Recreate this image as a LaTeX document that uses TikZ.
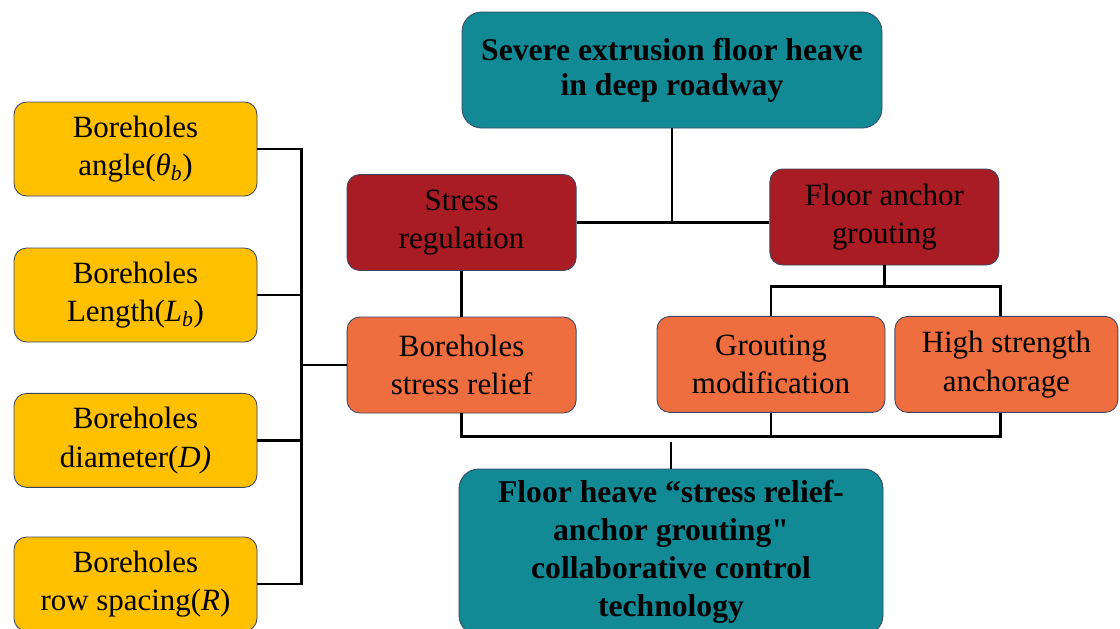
\documentclass[tikz,border=0pt]{standalone}
\usepackage{fontspec}
\setmainfont{Liberation Serif}[Ligatures=TeXOff]
\usetikzlibrary{calc}

\definecolor{tealfill}{RGB}{18,138,150}
\definecolor{redfill}{RGB}{169,28,36}
\definecolor{orgfill}{RGB}{238,110,63}
\definecolor{yelfill}{RGB}{255,192,0}
\definecolor{edgeblue}{RGB}{55,72,100}

\begin{document}
\begin{tikzpicture}[
    box/.style={draw=edgeblue, line width=0.6pt, rounded corners=9pt, align=center, inner sep=2pt,
        font=\fontsize{22}{27.5}\selectfont},
    yelbox/.style={box, fill=yelfill, minimum width=6.075cm, minimum height=2.35cm},
    redbox/.style={box, fill=redfill, minimum width=5.725cm, minimum height=2.4cm},
    orgbox/.style={box, fill=orgfill, minimum width=5.725cm, minimum height=2.4cm},
    tealbox/.style={box, fill=tealfill, rounded corners=14pt},
    link/.style={line width=2pt}
]

    \useasboundingbox (0,0) rectangle (28,-15.7);

    % parameters of the boreholes
    \node[yelbox] (ang) at (3.3875,-3.725) {Boreholes\\angle(\textit{θ\textsubscript{b}})};
    \node[yelbox] (len) at (3.3875,-7.375) {Boreholes\\Length(\textit{L\textsubscript{b}})};
    \node[yelbox] (dia) at (3.3875,-11.01) {Boreholes\\diameter(\textit{D)}};
    \node[yelbox] (spc) at (3.3875,-14.6) {Boreholes\\row spacing(\textit{R})};

    % problem and technology
    \node[tealbox, minimum width=10.5cm, minimum height=2.9cm, font=\fontsize{22.5}{25}\selectfont\bfseries]
        (heave) at (16.8,-1.75) {Severe extrusion floor heave\\in deep roadway};
    \node[tealbox, minimum width=10.6cm, minimum height=4.15cm, font=\fontsize{22.5}{27}\selectfont\bfseries]
        (tech) at (16.775,-13.8) {Floor heave “stress relief-\\anchor grouting"\\collaborative control\\technology};

    % measures
    \node[redbox] (reg) at (11.54,-5.5625) {Stress\\regulation};
    \node[redbox] (anc) at (22.11,-5.425) {Floor anchor\\grouting};
    \node[orgbox] (rel) at (11.54,-9.125) {Boreholes\\stress relief};
    \node[orgbox, minimum width=5.7cm] (mod) at (19.275,-9.11) {Grouting\\modification};
    \node[orgbox, minimum width=5.575cm] (hsa) at (25.16,-9.11) {High strength\\anchorage};

    % left bracket
    \coordinate (spine) at ($(rel.west)+(-1.125,0)$);
    \draw[link] (ang.east) -| (spine |- spc.east) -- (spc.east);
    \draw[link] (len.east) -- (len.east -| spine);
    \draw[link] (dia.east) -- (dia.east -| spine);
    \draw[link] (rel.west) -- (spine);

    % top part
    \draw[link] (heave.south) -- (heave.south |- reg.east);
    \draw[link] (reg.east) -- (reg.east -| anc.west);
    \draw[link] (reg.south) -- (rel.north);

    \coordinate (fork) at ($(anc.south)+(0,-0.525)$);
    \coordinate (hsatop) at ($(hsa.north)+(-0.15,0)$);
    \draw[link] (anc.south) -- (fork);
    \draw[link] (mod.north) |- (fork) -| (hsatop);

    % bottom join
    \coordinate (join) at ($(rel.south)+(0,-0.575)$);
    \coordinate (hsabot) at ($(hsa.south)+(-0.15,0)$);
    \draw[link] (rel.south) -- (join) -| (hsabot);
    \draw[link] (mod.south) -- (mod.south |- join);
    \draw[link] (tech.north) -- ($(tech.north |- join)+(0,-0.15)$);

\end{tikzpicture}
\end{document}
